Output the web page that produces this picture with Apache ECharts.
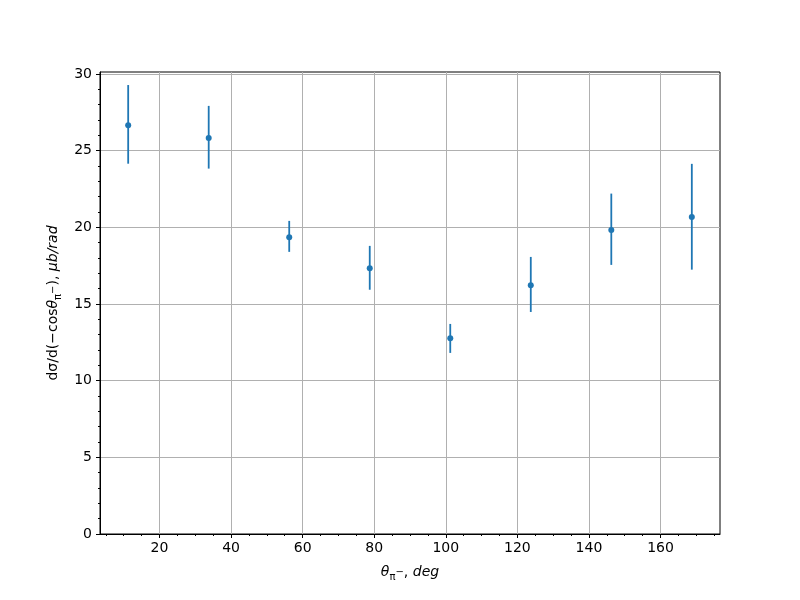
<!DOCTYPE html>
<html>
<head>
<meta charset="utf-8">
<script src="https://cdn.jsdelivr.net/npm/echarts@6/dist/echarts.min.js"></script>
<style>html,body{margin:0;padding:0;background:#fff}#c{width:800px;height:600px}</style>
</head>
<body>
<div id="c"></div>
<script>
// Data
var angles = [11.25, 33.75, 56.25, 78.75, 101.25, 123.75, 146.25, 168.75];
var values = [26.66, 25.82, 19.35, 17.33, 12.77, 16.23, 19.82, 20.67];
var lower  = [24.15, 23.83, 18.40, 15.93, 11.81, 14.48, 17.55, 17.24];
var upper  = [29.28, 27.92, 20.42, 18.79, 13.70, 18.07, 22.20, 24.14];
var xTicks = [20, 40, 60, 80, 100, 120, 140, 160];
var xMinorTicks = [5, 10, 15, 25, 30, 35, 45, 50, 55, 65, 70, 75, 85, 90, 95, 105, 110, 115, 125, 130, 135, 145, 150, 155, 165, 170, 175];
var yTicks = [0, 5, 10, 15, 20, 25, 30];
var yMinorTicks = [1, 2, 3, 4, 6, 7, 8, 9, 11, 12, 13, 14, 16, 17, 18, 19, 21, 22, 23, 24, 26, 27, 28, 29];

var FONT = '"DejaVu Sans", sans-serif';
var BLUE = '#1f77b4';
var xMin = 3.375, xMax = 176.625, yMin = 0, yMax = 30.13;

var pts = angles.map(function (a, i) { return [a, values[i]]; });
var bars = angles.map(function (a, i) { return [a, lower[i], upper[i]]; });

var rich = {
  n:   { fontFamily: FONT, fontSize: 14, color: '#000', lineHeight: 20 },
  it:  { fontFamily: FONT, fontSize: 14, fontStyle: 'italic', color: '#000', lineHeight: 20 },
  sub: { fontFamily: FONT, fontSize: 10, color: '#000', lineHeight: 12, verticalAlign: 'bottom' },
  sup: { fontFamily: FONT, fontSize: 10, color: '#000', lineHeight: 20 }
};

var chart = echarts.init(document.getElementById('c'), null, { renderer: 'canvas' });
chart.setOption({
  backgroundColor: '#fff',
  animation: false,
  grid: { left: 100, right: 80, top: 72, bottom: 66, show: true, borderColor: '#000', borderWidth: 1, backgroundColor: 'transparent' },
  xAxis: [{
    type: 'value', min: xMin, max: xMax,
    name: '{it|θ}{sub|π}{sup|−}{n|, }{it|deg}',
    nameLocation: 'middle', nameGap: 28,
    nameTextStyle: { rich: rich },
    axisLine: { show: true, onZero: false, lineStyle: { color: '#000', width: 1 } },
    axisTick: { show: true, inside: false, length: 4, customValues: xTicks, lineStyle: { color: '#000', width: 1 } },
    axisLabel: { show: true, customValues: xTicks, margin: 7, fontFamily: FONT, fontSize: 14, color: '#000' },
    splitLine: { show: true, lineStyle: { color: '#b0b0b0', width: 1 } }
  }, {
    type: 'value', min: xMin, max: xMax, position: 'bottom',
    axisLine: { show: false },
    axisTick: { show: true, inside: false, length: 2, customValues: xMinorTicks, lineStyle: { color: '#000', width: 1 } },
    axisLabel: { show: false },
    splitLine: { show: false }
  }],
  yAxis: [{
    type: 'value', min: yMin, max: yMax,
    name: '{n|dσ/d(−cos}{it|θ}{sub|π}{sup|−}{n|), }{it|μb/rad}',
    nameLocation: 'middle', nameGap: 36, nameRotate: 90,
    nameTextStyle: { rich: rich },
    axisLine: { show: true, onZero: false, lineStyle: { color: '#000', width: 1 } },
    axisTick: { show: true, inside: false, length: 4, customValues: yTicks, lineStyle: { color: '#000', width: 1 } },
    axisLabel: { show: true, customValues: yTicks, margin: 8, fontFamily: FONT, fontSize: 14, color: '#000' },
    splitLine: { show: true, lineStyle: { color: '#b0b0b0', width: 1 } }
  }, {
    type: 'value', min: yMin, max: yMax, position: 'left',
    axisLine: { show: false },
    axisTick: { show: true, inside: false, length: 2, customValues: yMinorTicks, lineStyle: { color: '#000', width: 1 } },
    axisLabel: { show: false },
    splitLine: { show: false }
  }],
  series: [{
    type: 'custom',
    xAxisIndex: 0, yAxisIndex: 0,
    data: bars,
    renderItem: function (params, api) {
      var p1 = api.coord([api.value(0), api.value(1)]);
      var p2 = api.coord([api.value(0), api.value(2)]);
      return {
        type: 'line',
        shape: { x1: p1[0], y1: p1[1], x2: p2[0], y2: p2[1] },
        style: { stroke: BLUE, lineWidth: 1.8 }
      };
    },
    z: 2
  }, {
    type: 'scatter',
    xAxisIndex: 0, yAxisIndex: 0,
    data: pts,
    symbol: 'circle', symbolSize: 6,
    itemStyle: { color: BLUE, opacity: 1 },
    z: 3
  }]
});
</script>
</body>
</html>
